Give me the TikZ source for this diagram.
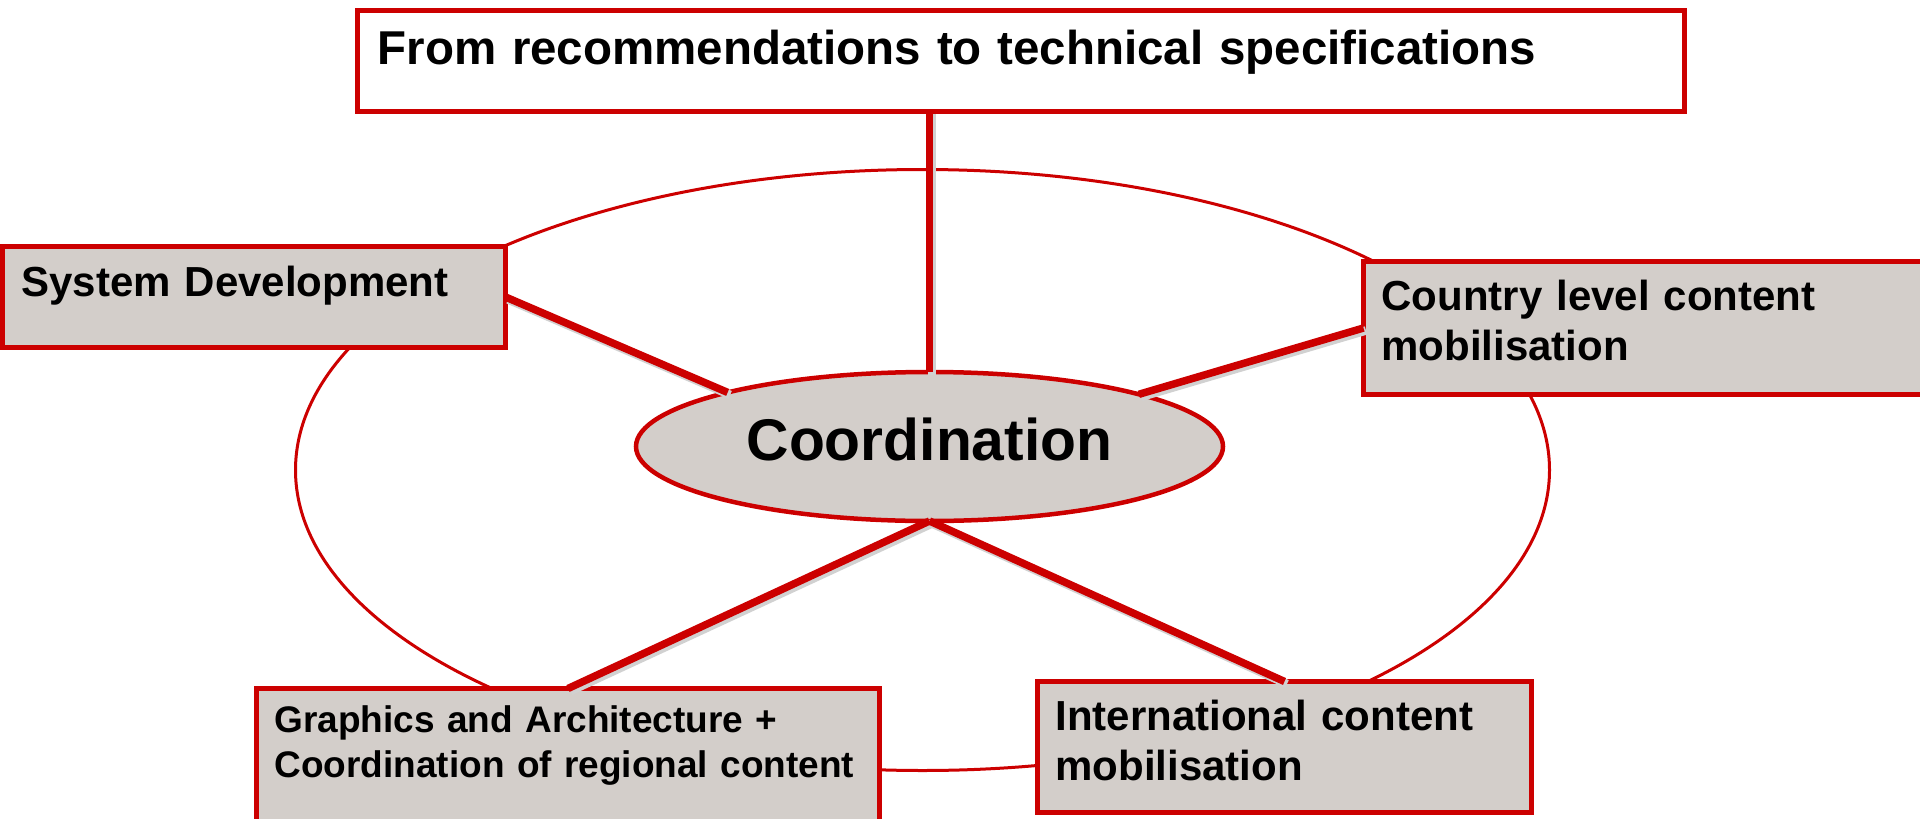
\documentclass[tikz,border=0pt]{standalone}
\usepackage{fontspec}
\setmainfont{Liberation Sans}
\usetikzlibrary{shapes.geometric}
\definecolor{cfred}{HTML}{CC0000}
\definecolor{cfgray}{HTML}{D3CECA}
\tikzset{>=stealth,
  card/.style={draw=cfred, line width=5pt, fill=cfgray, anchor=north west, outer sep=0pt,
    inner xsep=18pt, inner ysep=0pt, align=left},
  hub/.style={ellipse, draw=cfred, line width=4.5pt, fill=cfgray, inner sep=0pt, outer sep=0pt,
    minimum width=587pt, minimum height=149pt},
  link/.style={draw=cfred, line width=7.5pt,
    preaction={draw=black!18, line width=8.5pt, transform canvas={xshift=2.5pt, yshift=-2.5pt}}},
  ring/.style={draw=cfred, line width=3pt}}

\begin{document}
\begin{tikzpicture}[x=1pt, y=-1pt]
    \useasboundingbox (0,0) rectangle (1920,819);
    \draw[ring] (922.5,470) ellipse [x radius=627, y radius=300.5];
    \node[card, fill=white, inner xsep=20pt, text width=1287pt, text height=54pt, text depth=47pt,
      font=\bfseries\fontsize{47.5}{57}\selectfont] (spec) at (357.5,10.5)
      {From recommendations to technical specifications};
    \node[card, inner xsep=19pt, text width=465pt, text height=50pt, text depth=51pt,
      font=\bfseries\fontsize{42}{50}\selectfont] (sysdev) at (2.5,246.5) {System Development};
    \node[card, text width=531pt, text height=49pt, text depth=84pt,
      font=\bfseries\fontsize{42}{50}\selectfont] (country) at (1363.5,261.5)
      {Country level content\\mobilisation};
    \node[card, text width=587pt, text height=44pt, text depth=98pt,
      font=\bfseries\fontsize{37}{45}\selectfont] (graphics) at (256.5,688.5)
      {Graphics and Architecture +\\Coordination of regional content};
    \node[card, text width=458pt, text height=49pt, text depth=82pt,
      font=\bfseries\fontsize{42}{50}\selectfont] (intl) at (1037.5,681.5)
      {International content\\mobilisation};
    \node[hub, text height=43pt, text depth=16pt, font=\bfseries\fontsize{58.8}{70}\selectfont]
      (coord) at (929.5,446.5) {Coordination};
    \draw[link] (coord.north) -- (coord.north |- spec.south);
    \draw[link] (sysdev.east) -- (coord.165);
    \draw[link] (country.west) -- (coord.14);
    \draw[link] (coord.south) -- (graphics.north);
    \draw[link] (coord.south) -- (intl.north);
\end{tikzpicture}
\end{document}
